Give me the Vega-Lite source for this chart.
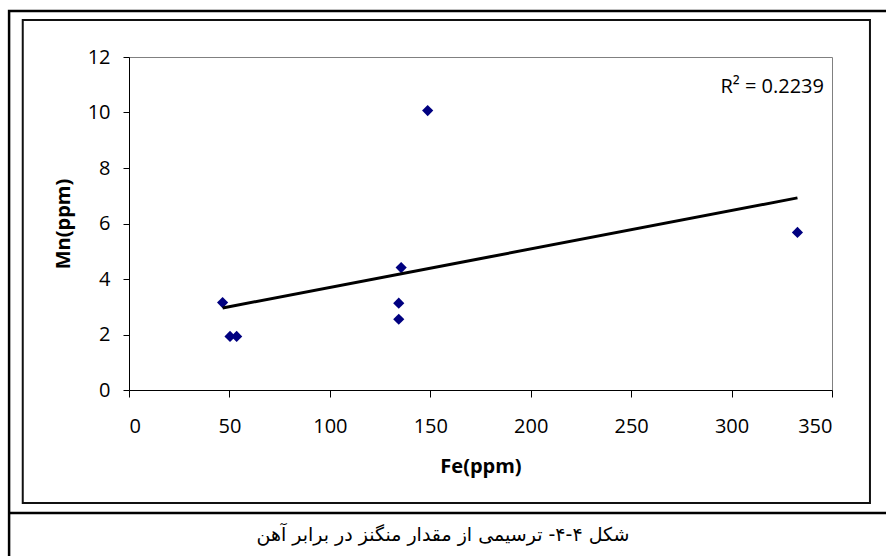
{
  "$schema": "https://vega.github.io/schema/vega-lite/v6.json",
  "width": 703,
  "height": 333,
  "autosize": {"type": "none"},
  "padding": {"left": 129, "top": 57, "right": 54, "bottom": 166},
  "background": "white",
  "config": {
    "view": {"stroke": "#808080", "strokeWidth": 1},
    "axis": {
      "grid": false,
      "domainColor": "black",
      "domainWidth": 1,
      "tickColor": "black",
      "tickWidth": 1,
      "labelColor": "black",
      "labelFont": "Open Sans",
      "labelFontSize": 20,
      "titleFont": "Open Sans",
      "titleFontSize": 20,
      "titleFontWeight": "bold",
      "titleColor": "black"
    }
  },
  "data": {
    "values": [
      {"Fe": 46.6, "Mn": 3.15},
      {"Fe": 50.3, "Mn": 1.93},
      {"Fe": 53.6, "Mn": 1.93},
      {"Fe": 134.3, "Mn": 2.55},
      {"Fe": 134.3, "Mn": 3.13},
      {"Fe": 135.5, "Mn": 4.41},
      {"Fe": 148.7, "Mn": 10.07},
      {"Fe": 332.8, "Mn": 5.68}
    ]
  },
  "layer": [
    {
      "data": {"values": [{}]},
      "mark": {"type": "rect", "fill": null, "stroke": "black", "strokeWidth": 2.5},
      "encoding": {
        "x": {"datum": -59.7, "type": "quantitative", "scale": {"domain": [0, 350], "nice": false}, "title": "Fe(ppm)"},
        "x2": {"datum": 380},
        "y": {"datum": 13.66, "type": "quantitative", "scale": {"domain": [0, 12], "nice": false}, "title": "Mn(ppm)"},
        "y2": {"datum": -6.4}
      }
    },
    {
      "data": {"values": [{}]},
      "mark": {"type": "rule", "stroke": "black", "strokeWidth": 2.5},
      "encoding": {
        "x": {"datum": -59.7, "type": "quantitative", "scale": {"domain": [0, 350], "nice": false}, "title": "Fe(ppm)"},
        "x2": {"datum": 380},
        "y": {"datum": -4.43, "type": "quantitative", "scale": {"domain": [0, 12], "nice": false}, "title": "Mn(ppm)"}
      }
    },
    {
      "data": {"values": [{}]},
      "mark": {"type": "rect", "fill": null, "stroke": "#111111", "strokeWidth": 2},
      "encoding": {
        "x": {"datum": -52.9, "type": "quantitative", "scale": {"domain": [0, 350], "nice": false}, "title": "Fe(ppm)"},
        "x2": {"datum": 368.9},
        "y": {"datum": 13.33, "type": "quantitative", "scale": {"domain": [0, 12], "nice": false}, "title": "Mn(ppm)"},
        "y2": {"datum": -4.07}
      }
    },
    {
      "mark": {"type": "point", "shape": "diamond", "filled": true, "color": "#000080", "size": 125, "opacity": 1},
      "encoding": {
        "x": {
          "field": "Fe", "type": "quantitative",
          "scale": {"domain": [0, 350], "nice": false},
          "title": "Fe(ppm)",
          "axis": {"values": [0, 50, 100, 150, 200, 250, 300, 350], "tickSize": 7, "labelPadding": 19, "titlePadding": 20}
        },
        "y": {
          "field": "Mn", "type": "quantitative",
          "scale": {"domain": [0, 12], "nice": false},
          "title": "Mn(ppm)",
          "axis": {"values": [0, 2, 4, 6, 8, 10, 12], "tickSize": 6, "labelPadding": 13, "titlePadding": 14}
        }
      }
    },
    {
      "transform": [{"regression": "Mn", "on": "Fe"}],
      "mark": {"type": "line", "color": "black", "strokeWidth": 3},
      "encoding": {
        "x": {"field": "Fe", "type": "quantitative", "scale": {"domain": [0, 350], "nice": false}, "title": "Fe(ppm)"},
        "y": {"field": "Mn", "type": "quantitative", "scale": {"domain": [0, 12], "nice": false}, "title": "Mn(ppm)"}
      }
    },
    {
      "data": {"values": [{"label": "R² = 0.2239"}]},
      "mark": {"type": "text", "align": "right", "baseline": "middle", "font": "Open Sans", "fontSize": 20, "color": "black"},
      "encoding": {
        "x": {"datum": 346.0, "type": "quantitative", "scale": {"domain": [0, 350], "nice": false}, "title": "Fe(ppm)"},
        "y": {"datum": 10.92, "type": "quantitative", "scale": {"domain": [0, 12], "nice": false}, "title": "Mn(ppm)"},
        "text": {"field": "label"}
      }
    },
    {
      "data": {"values": [{"caption": "شکل ۴-۴- ترسیمی از مقدار منگنز در برابر آهن"}]},
      "mark": {"type": "text", "align": "center", "baseline": "middle", "font": "DejaVu Sans", "fontSize": 19, "color": "black"},
      "encoding": {
        "x": {"datum": 156.3, "type": "quantitative", "scale": {"domain": [0, 350], "nice": false}, "title": "Fe(ppm)"},
        "y": {"datum": -5.23, "type": "quantitative", "scale": {"domain": [0, 12], "nice": false}, "title": "Mn(ppm)"},
        "text": {"field": "caption"}
      }
    }
  ]
}
